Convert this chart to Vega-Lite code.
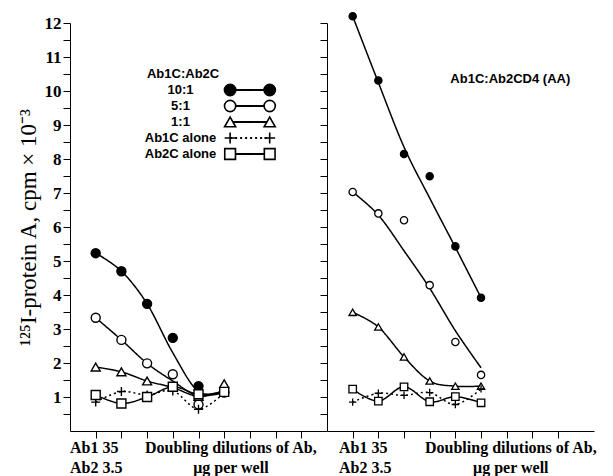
{
  "$schema": "https://vega.github.io/schema/vega-lite/v6.json",
  "background": "white",
  "padding": {"left": 17, "top": 9, "right": 0, "bottom": 0},
  "spacing": 0,
  "bounds": "flush",
  "config": {
    "view": {"stroke": null},
    "axis": {
      "domainColor": "black", "tickColor": "black", "labelColor": "black", "titleColor": "black",
      "grid": false, "labelFont": "Liberation Serif", "labelFontWeight": "bold", "labelFontSize": 17,
      "tickSize": 7, "labelPadding": 2, "labelOverlap": false, "tickCount": 100
    },
    "text": {"color": "black"}
  },
  "datasets": {
    "obs": [
      {"panel": "L", "series": "10:1", "pos": 1, "y": 5.23, "fit": 5.23},
      {"panel": "L", "series": "10:1", "pos": 2, "y": 4.70, "fit": 4.70},
      {"panel": "L", "series": "10:1", "pos": 3, "y": 3.74, "fit": 3.74},
      {"panel": "L", "series": "10:1", "pos": 4, "y": 2.74, "fit": 2.30},
      {"panel": "L", "series": "10:1", "pos": 5, "y": 1.32, "fit": 1.16},
      {"panel": "L", "series": "10:1", "pos": 6, "y": 1.13, "fit": 1.13},
      {"panel": "L", "series": "5:1", "pos": 1, "y": 3.33, "fit": 3.33},
      {"panel": "L", "series": "5:1", "pos": 2, "y": 2.68, "fit": 2.68},
      {"panel": "L", "series": "5:1", "pos": 3, "y": 1.99, "fit": 1.99},
      {"panel": "L", "series": "5:1", "pos": 4, "y": 1.67, "fit": 1.47},
      {"panel": "L", "series": "5:1", "pos": 5, "y": 0.78, "fit": 1.03},
      {"panel": "L", "series": "5:1", "pos": 6, "y": 1.15, "fit": 1.18},
      {"panel": "L", "series": "1:1", "pos": 1, "y": 1.88, "fit": 1.88},
      {"panel": "L", "series": "1:1", "pos": 2, "y": 1.74, "fit": 1.74},
      {"panel": "L", "series": "1:1", "pos": 3, "y": 1.47, "fit": 1.47},
      {"panel": "L", "series": "1:1", "pos": 4, "y": 1.30, "fit": 1.28},
      {"panel": "L", "series": "1:1", "pos": 5, "y": 1.02, "fit": 1.02},
      {"panel": "L", "series": "1:1", "pos": 6, "y": 1.39, "fit": 1.20},
      {"panel": "L", "series": "Ab1C alone", "pos": 1, "y": 0.85, "fit": 0.85},
      {"panel": "L", "series": "Ab1C alone", "pos": 2, "y": 1.16, "fit": 1.16},
      {"panel": "L", "series": "Ab1C alone", "pos": 3, "y": 1.06, "fit": 1.06},
      {"panel": "L", "series": "Ab1C alone", "pos": 4, "y": 1.18, "fit": 1.18},
      {"panel": "L", "series": "Ab1C alone", "pos": 5, "y": 0.64, "fit": 0.64},
      {"panel": "L", "series": "Ab1C alone", "pos": 6, "y": 1.13, "fit": 1.13},
      {"panel": "L", "series": "Ab2C alone", "pos": 1, "y": 1.06, "fit": 1.06},
      {"panel": "L", "series": "Ab2C alone", "pos": 2, "y": 0.81, "fit": 0.81},
      {"panel": "L", "series": "Ab2C alone", "pos": 3, "y": 1.00, "fit": 1.00},
      {"panel": "L", "series": "Ab2C alone", "pos": 4, "y": 1.30, "fit": 1.30},
      {"panel": "L", "series": "Ab2C alone", "pos": 5, "y": 1.08, "fit": 1.08},
      {"panel": "L", "series": "Ab2C alone", "pos": 6, "y": 1.15, "fit": 1.15},
      {"panel": "R", "series": "10:1", "pos": 1, "y": 12.2, "fit": 12.2},
      {"panel": "R", "series": "10:1", "pos": 2, "y": 10.31, "fit": 10.25},
      {"panel": "R", "series": "10:1", "pos": 3, "y": 8.15, "fit": 8.35},
      {"panel": "R", "series": "10:1", "pos": 4, "y": 7.49, "fit": 6.85},
      {"panel": "R", "series": "10:1", "pos": 5, "y": 5.43, "fit": 5.40},
      {"panel": "R", "series": "10:1", "pos": 6, "y": 3.92, "fit": 3.92},
      {"panel": "R", "series": "5:1", "pos": 1, "y": 7.03, "fit": 7.03},
      {"panel": "R", "series": "5:1", "pos": 2, "y": 6.40, "fit": 6.35},
      {"panel": "R", "series": "5:1", "pos": 3, "y": 6.20, "fit": 5.30},
      {"panel": "R", "series": "5:1", "pos": 4, "y": 4.29, "fit": 4.20},
      {"panel": "R", "series": "5:1", "pos": 5, "y": 2.62, "fit": 2.95},
      {"panel": "R", "series": "5:1", "pos": 6, "y": 1.65, "fit": 1.86},
      {"panel": "R", "series": "1:1", "pos": 1, "y": 3.49, "fit": 3.49},
      {"panel": "R", "series": "1:1", "pos": 2, "y": 3.06, "fit": 3.06},
      {"panel": "R", "series": "1:1", "pos": 3, "y": 2.18, "fit": 2.18},
      {"panel": "R", "series": "1:1", "pos": 4, "y": 1.47, "fit": 1.47},
      {"panel": "R", "series": "1:1", "pos": 5, "y": 1.32, "fit": 1.32},
      {"panel": "R", "series": "1:1", "pos": 6, "y": 1.32, "fit": 1.32},
      {"panel": "R", "series": "Ab1C alone", "pos": 1, "y": 0.85, "fit": 0.85},
      {"panel": "R", "series": "Ab1C alone", "pos": 2, "y": 1.11, "fit": 1.11},
      {"panel": "R", "series": "Ab1C alone", "pos": 3, "y": 1.05, "fit": 1.05},
      {"panel": "R", "series": "Ab1C alone", "pos": 4, "y": 1.13, "fit": 1.13},
      {"panel": "R", "series": "Ab1C alone", "pos": 5, "y": 0.78, "fit": 0.78},
      {"panel": "R", "series": "Ab1C alone", "pos": 6, "y": 1.24, "fit": 1.24},
      {"panel": "R", "series": "Ab2C alone", "pos": 1, "y": 1.23, "fit": 1.23},
      {"panel": "R", "series": "Ab2C alone", "pos": 2, "y": 0.88, "fit": 0.88},
      {"panel": "R", "series": "Ab2C alone", "pos": 3, "y": 1.30, "fit": 1.30},
      {"panel": "R", "series": "Ab2C alone", "pos": 4, "y": 0.86, "fit": 0.86},
      {"panel": "R", "series": "Ab2C alone", "pos": 5, "y": 1.01, "fit": 1.01},
      {"panel": "R", "series": "Ab2C alone", "pos": 6, "y": 0.83, "fit": 0.83}
    ],
    "legend": [
      {"label": "10:1"},
      {"label": "5:1"},
      {"label": "1:1"},
      {"label": "Ab1C alone"},
      {"label": "Ab2C alone"}
    ]
  },
  "hconcat": [
    {
      "width": 257,
      "height": 408,
      "layer": [
        {
          "layer": [
            {
              "data": {"name": "obs"},
              "transform": [{"filter": "datum.panel == 'L'"}],
              "mark": {"type": "line", "interpolate": "cardinal", "strokeWidth": 1.5, "color": "black"},
              "encoding": {
                "x": {"field": "pos", "type": "quantitative", "scale": {"domain": [0, 10], "nice": false},
                      "axis": {"title": null, "labels": false, "values": [1, 2, 3, 4, 5, 6, 7, 8, 9]}},
                "y": {"field": "fit", "type": "quantitative", "scale": {"domain": [0, 12], "nice": false},
                      "axis": {"title": "¹²⁵I-protein A, cpm × 10⁻³", "titleFont": "Liberation Serif", "titleFontWeight": "normal", "titleFontSize": 23, "titlePadding": 4,
                               "values": [0.5, 1, 1.5, 2, 2.5, 3, 3.5, 4, 4.5, 5, 5.5, 6, 6.5, 7, 7.5, 8, 8.5, 9, 9.5, 10, 10.5, 11, 11.5, 12],
                               "labelExpr": "datum.value % 1 === 0 ? format(datum.value, 'd') : ''"}},
                "detail": {"field": "series"},
                "strokeDash": {"field": "series", "type": "nominal",
                               "scale": {"domain": ["10:1", "5:1", "1:1", "Ab1C alone", "Ab2C alone"], "range": [[1, 0], [1, 0], [1, 0], [2, 3], [1, 0]]},
                               "legend": null}
              }
            },
            {
              "data": {"name": "obs"},
              "transform": [{"filter": "datum.panel == 'L'"}],
              "mark": {"type": "point", "stroke": "black", "strokeWidth": 1.4, "opacity": 1, "fillOpacity": 1},
              "encoding": {
                "x": {"field": "pos", "type": "quantitative"},
                "y": {"field": "y", "type": "quantitative"},
                "shape": {"field": "series", "type": "nominal",
                          "scale": {"domain": ["10:1", "5:1", "1:1", "Ab1C alone", "Ab2C alone"], "range": ["circle", "circle", "triangle-up", "M-1,0L1,0M0,-1L0,1", "square"]},
                          "legend": null},
                "fill": {"field": "series", "type": "nominal",
                         "scale": {"domain": ["10:1", "5:1", "1:1", "Ab1C alone", "Ab2C alone"], "range": ["black", "white", "white", "white", "white"]},
                         "legend": null},
                "size": {"field": "series", "type": "nominal",
                         "scale": {"domain": ["10:1", "5:1", "1:1", "Ab1C alone", "Ab2C alone"], "range": [81, 81, 60, 36, 25]},
                         "legend": null}
              }
            },
            {
              "data": {"values": [{}]},
              "mark": {"type": "text", "align": "center", "baseline": "middle", "font": "Liberation Sans", "fontWeight": "bold", "fontSize": 13},
              "encoding": {"x": {"datum": 4.4}, "y": {"datum": 10.5}, "text": {"value": "Ab1C:Ab2C"}}
            },
            {
              "data": {"values": [{}]},
              "mark": {"type": "text", "align": "left", "baseline": "top", "font": "Liberation Serif", "fontWeight": "bold", "fontSize": 16, "lineBreak": "\n", "lineHeight": 20},
              "encoding": {"x": {"datum": 0}, "y": {"datum": -0.27}, "text": {"value": "Ab1 35\nAb2 3.5"}}
            },
            {
              "data": {"values": [{}]},
              "mark": {"type": "text", "align": "center", "baseline": "top", "font": "Liberation Serif", "fontWeight": "bold", "fontSize": 16, "lineBreak": "\n", "lineHeight": 20},
              "encoding": {"x": {"datum": 6.26}, "y": {"datum": -0.27}, "text": {"value": "Doubling dilutions of Ab,\nμg per well"}}
            }
          ]
        },
        {
          "data": {"name": "legend"},
          "layer": [
            {
              "mark": {"type": "text", "align": "center", "baseline": "middle", "font": "Liberation Sans", "fontWeight": "bold", "fontSize": 13},
              "encoding": {
                "x": {"datum": 4.3},
                "y": {"field": "label", "type": "ordinal", "axis": null,
                      "scale": {"type": "point", "domain": ["10:1", "5:1", "1:1", "Ab1C alone", "Ab2C alone"], "range": [67, 131], "padding": 0}},
                "text": {"field": "label"}
              }
            },
            {
              "mark": {"type": "rule", "color": "black", "strokeWidth": 2.2},
              "encoding": {
                "x": {"datum": 6.23},
                "x2": {"datum": 7.77},
                "y": {"field": "label", "type": "ordinal"},
                "strokeDash": {"field": "label", "type": "nominal"}
              }
            },
            {
              "mark": {"type": "point", "stroke": "black", "strokeWidth": 1.6, "opacity": 1, "fillOpacity": 1},
              "encoding": {
                "x": {"datum": 6.23},
                "y": {"field": "label", "type": "ordinal"},
                "shape": {"field": "label", "type": "nominal"},
                "fill": {"field": "label", "type": "nominal"},
                "size": {"field": "label", "type": "nominal",
                         "scale": {"domain": ["10:1", "5:1", "1:1", "Ab1C alone", "Ab2C alone"], "range": [130, 115, 90, 45, 45]},
                         "legend": null}
              }
            },
            {
              "mark": {"type": "point", "stroke": "black", "strokeWidth": 1.6, "opacity": 1, "fillOpacity": 1},
              "encoding": {
                "x": {"datum": 7.77},
                "y": {"field": "label", "type": "ordinal"},
                "shape": {"field": "label", "type": "nominal"},
                "fill": {"field": "label", "type": "nominal"},
                "size": {"field": "label", "type": "nominal"}
              }
            }
          ]
        }
      ],
      "resolve": {"scale": {"y": "independent", "size": "independent"}}
    },
    {
      "width": 267,
      "height": 408,
      "layer": [
        {
          "data": {"name": "obs"},
          "transform": [{"filter": "datum.panel == 'R'"}],
          "mark": {"type": "line", "interpolate": "cardinal", "strokeWidth": 1.5, "color": "black"},
          "encoding": {
            "x": {"field": "pos", "type": "quantitative", "scale": {"domain": [0, 10.4], "nice": false},
                  "axis": {"title": null, "labels": false, "values": [1, 2, 3, 4, 5, 6, 7, 8, 9]}},
            "y": {"field": "fit", "type": "quantitative", "scale": {"domain": [0, 12], "nice": false},
                  "axis": {"title": null, "labels": false, "orient": "left",
                           "values": [0.5, 1, 1.5, 2, 2.5, 3, 3.5, 4, 4.5, 5, 5.5, 6, 6.5, 7, 7.5, 8, 8.5, 9, 9.5, 10, 10.5, 11, 11.5, 12]}},
            "detail": {"field": "series"},
            "strokeDash": {"field": "series", "type": "nominal",
                           "scale": {"domain": ["10:1", "5:1", "1:1", "Ab1C alone", "Ab2C alone"], "range": [[1, 0], [1, 0], [1, 0], [2, 3], [1, 0]]},
                           "legend": null}
          }
        },
        {
          "data": {"name": "obs"},
          "transform": [{"filter": "datum.panel == 'R'"}],
          "mark": {"type": "point", "stroke": "black", "strokeWidth": 1.3, "opacity": 1, "fillOpacity": 1},
          "encoding": {
            "x": {"field": "pos", "type": "quantitative"},
            "y": {"field": "y", "type": "quantitative"},
            "shape": {"field": "series", "type": "nominal",
                      "scale": {"domain": ["10:1", "5:1", "1:1", "Ab1C alone", "Ab2C alone"], "range": ["circle", "circle", "triangle-up", "M-1,0L1,0M0,-1L0,1", "square"]},
                      "legend": null},
            "fill": {"field": "series", "type": "nominal",
                     "scale": {"domain": ["10:1", "5:1", "1:1", "Ab1C alone", "Ab2C alone"], "range": ["black", "white", "white", "white", "white"]},
                     "legend": null},
            "size": {"field": "series", "type": "nominal",
                     "scale": {"domain": ["10:1", "5:1", "1:1", "Ab1C alone", "Ab2C alone"], "range": [52, 56, 60, 36, 25]},
                     "legend": null}
          }
        },
        {
          "data": {"values": [{}]},
          "mark": {"type": "text", "align": "center", "baseline": "middle", "font": "Liberation Sans", "fontWeight": "bold", "fontSize": 13},
          "encoding": {"x": {"datum": 7.14}, "y": {"datum": 10.35}, "text": {"value": "Ab1C:Ab2CD4 (AA)"}}
        },
        {
          "data": {"values": [{}]},
          "mark": {"type": "text", "align": "left", "baseline": "top", "font": "Liberation Serif", "fontWeight": "bold", "fontSize": 16, "lineBreak": "\n", "lineHeight": 20},
          "encoding": {"x": {"datum": 0.47}, "y": {"datum": -0.27}, "text": {"value": "Ab1 35\nAb2 3.5"}}
        },
        {
          "data": {"values": [{}]},
          "mark": {"type": "text", "align": "center", "baseline": "top", "font": "Liberation Serif", "fontWeight": "bold", "fontSize": 16, "lineBreak": "\n", "lineHeight": 20},
          "encoding": {"x": {"datum": 7.16}, "y": {"datum": -0.27}, "text": {"value": "Doubling dilutions of Ab,\nμg per well"}}
        }
      ]
    }
  ]
}
